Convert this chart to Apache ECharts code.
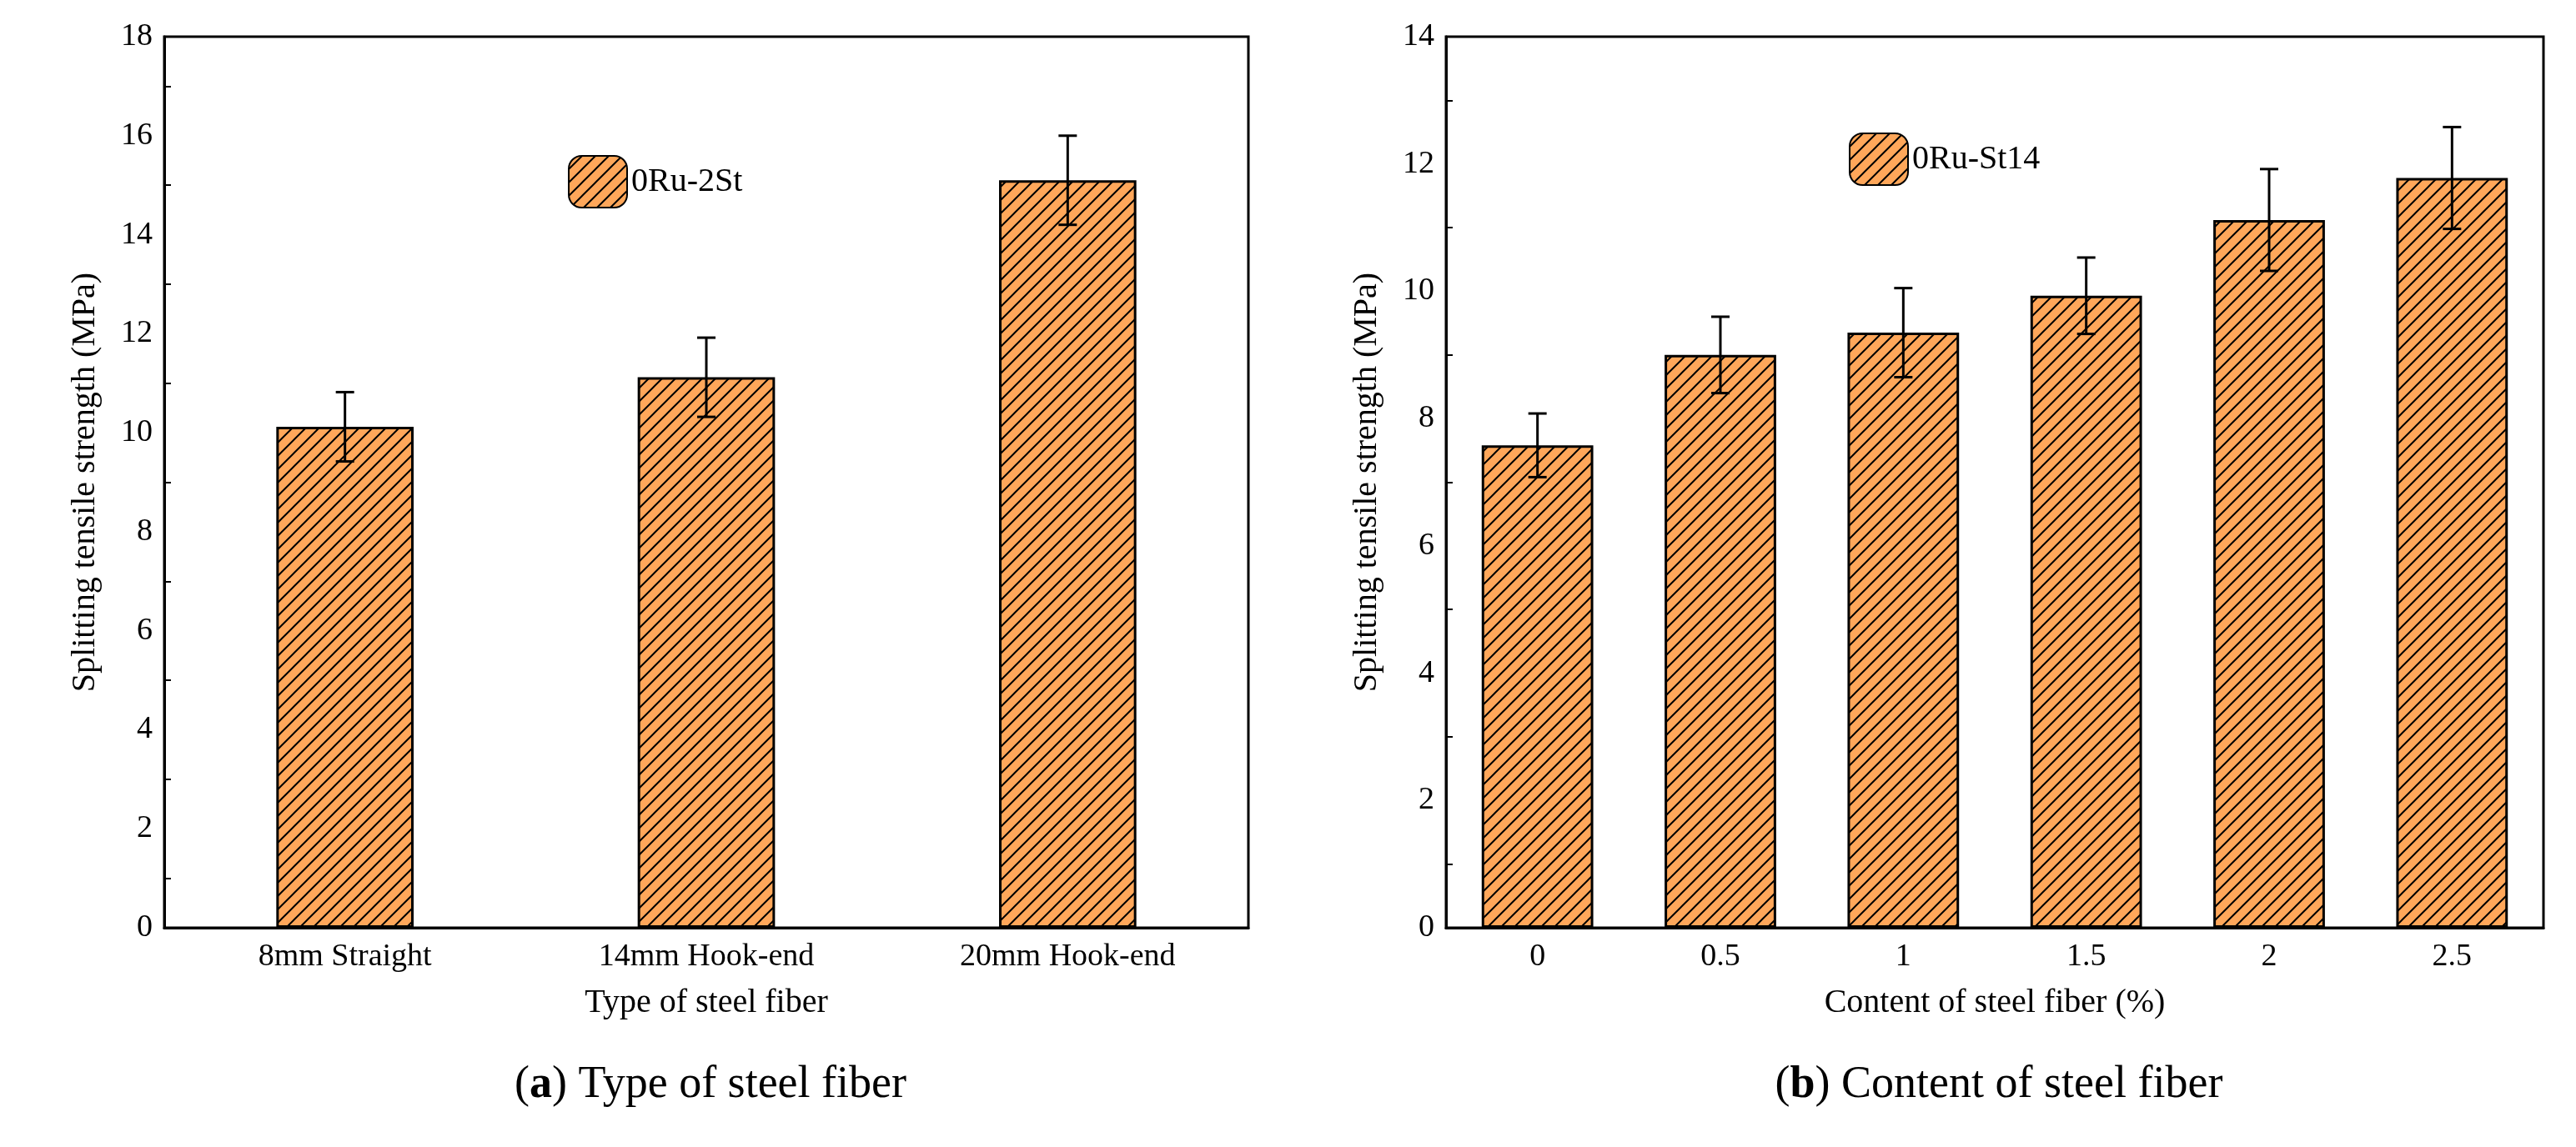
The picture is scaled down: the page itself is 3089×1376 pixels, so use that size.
<!DOCTYPE html>
<html>
<head>
<meta charset="UTF-8">
<script src="https://cdn.jsdelivr.net/npm/echarts@6/dist/echarts.min.js"></script>
<style>
  html, body { margin: 0; background: #fff; }
  #chart { width: 3089px; height: 1376px; }
</style>
</head>
<body>
<div id="chart"></div>
<script>
const typeCats = ['8mm Straight', '14mm Hook-end', '20mm Hook-end'];
const typeVals = [10.12, 11.12, 15.1];
const typeErr = [0.7, 0.8, 0.9];
const contentCats = ['0', '0.5', '1', '1.5', '2', '2.5'];
const contentVals = [7.58, 9.0, 9.35, 9.93, 11.12, 11.78];
const contentErr = [0.5, 0.6, 0.7, 0.6, 0.8, 0.8];

// hatched fill
const tile = document.createElement('canvas');
tile.width = 16; tile.height = 16;
const c = tile.getContext('2d');
c.fillStyle = '#FFA75A'; c.fillRect(0, 0, 16, 16);
c.strokeStyle = '#000'; c.lineWidth = 2;
c.beginPath();
c.moveTo(-4, 20); c.lineTo(20, -4);
c.moveTo(-4, 4); c.lineTo(4, -4);
c.moveTo(12, 20); c.lineTo(20, 12);
c.stroke();
const hatch = { image: tile, repeat: 'repeat' };

const font = 'Liberation Serif';
function yAxis(idx, max, name) {
  return {
    gridIndex: idx, type: 'value', min: 0, max: max, interval: 2,
    name: name, nameLocation: 'middle', nameGap: 75,
    nameTextStyle: { fontFamily: font, fontSize: 40, color: '#000' },
    axisLine: { show: true, lineStyle: { color: '#000', width: 3 } },
    axisTick: { inside: true, length: 14, lineStyle: { color: '#000', width: 3 } },
    minorTick: { show: true, splitNumber: 2, length: 8, lineStyle: { color: '#000', width: 2 } },
    axisLabel: { fontFamily: font, fontSize: 38, color: '#000', margin: 14 },
    splitLine: { show: false }
  };
}
function xAxis(idx, cats, name) {
  return {
    gridIndex: idx, type: 'category', data: cats,
    name: name, nameLocation: 'middle', nameGap: 70,
    nameTextStyle: { fontFamily: font, fontSize: 40, color: '#000' },
    axisLine: { lineStyle: { color: '#000', width: 3 } },
    axisTick: { inside: true, alignWithLabel: true, length: 14, lineStyle: { color: '#000', width: 3 } },
    axisLabel: { fontFamily: font, fontSize: 38, color: '#000', margin: 16 }
  };
}
function errSeries(idx, vals, errs) {
  return {
    type: 'custom', xAxisIndex: idx, yAxisIndex: idx, z: 10,
    data: vals.map((v, i) => [i, v - errs[i], v + errs[i]]),
    renderItem: function (params, api) {
      const lo = api.coord([api.value(0), api.value(1)]);
      const hi = api.coord([api.value(0), api.value(2)]);
      const w = 11;
      const st = { stroke: '#000', lineWidth: 3 };
      return { type: 'group', children: [
        { type: 'line', shape: { x1: hi[0], y1: hi[1], x2: lo[0], y2: lo[1] }, style: st },
        { type: 'line', shape: { x1: hi[0] - w, y1: hi[1], x2: hi[0] + w, y2: hi[1] }, style: st },
        { type: 'line', shape: { x1: lo[0] - w, y1: lo[1], x2: lo[0] + w, y2: lo[1] }, style: st }
      ]};
    }
  };
}
function frame(g) {
  return { left: g.left, top: g.top, width: g.width, height: g.height, show: true,
    borderColor: '#000', borderWidth: 3, backgroundColor: 'transparent' };
}
const g0 = { left: 197, top: 44, width: 1300, height: 1069 };
const g1 = { left: 1734, top: 44, width: 1316, height: 1069 };

const chart = echarts.init(document.getElementById('chart'));
chart.setOption({
  animation: false,
  grid: [frame(g0), frame(g1)],
  xAxis: [xAxis(0, typeCats, 'Type of steel fiber'), xAxis(1, contentCats, 'Content of steel fiber (%)')],
  yAxis: [yAxis(0, 18, 'Splitting tensile strength (MPa)'), yAxis(1, 14, 'Splitting tensile strength (MPa)')],
  legend: [
    { data: ['0Ru-2St'], left: 676, top: 181, itemWidth: 70, itemHeight: 62, itemGap: 20,
      textStyle: { fontFamily: font, fontSize: 40, color: '#000' } },
    { data: ['0Ru-St14'], left: 2212, top: 154, itemWidth: 70, itemHeight: 62, itemGap: 20,
      textStyle: { fontFamily: font, fontSize: 40, color: '#000' } }
  ],
  title: [
    { text: '({a|a}) Type of steel fiber', left: 847, top: 1270, textAlign: 'center',
      textStyle: { fontFamily: font, fontSize: 54, fontWeight: 'normal', color: '#000',
        rich: { a: { fontFamily: font, fontSize: 54, fontWeight: 'bold' } } } },
    { text: '({a|b}) Content of steel fiber', left: 2392, top: 1270, textAlign: 'center',
      textStyle: { fontFamily: font, fontSize: 54, fontWeight: 'normal', color: '#000',
        rich: { a: { fontFamily: font, fontSize: 54, fontWeight: 'bold' } } } }
  ],
  series: [
    { name: '0Ru-2St', type: 'bar', xAxisIndex: 0, yAxisIndex: 0, data: typeVals, barWidth: '38%',
      itemStyle: { color: hatch, borderColor: '#000', borderWidth: 3 } },
    errSeries(0, typeVals, typeErr),
    { name: '0Ru-St14', type: 'bar', xAxisIndex: 1, yAxisIndex: 1, data: contentVals, barWidth: '61%',
      itemStyle: { color: hatch, borderColor: '#000', borderWidth: 3 } },
    errSeries(1, contentVals, contentErr)
  ]
});
</script>
</body>
</html>
